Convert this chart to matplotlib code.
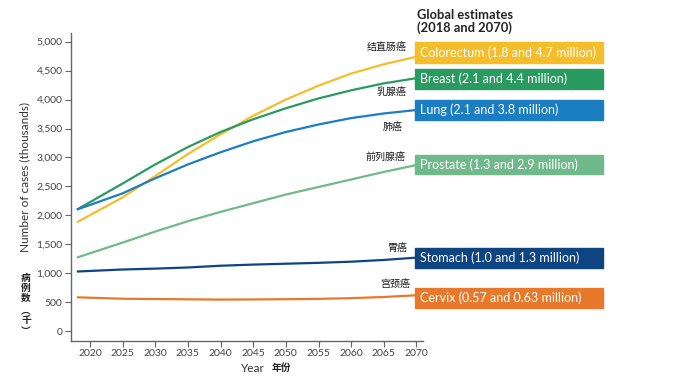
import matplotlib
matplotlib.use("Agg")
import matplotlib.pyplot as plt
from matplotlib.patches import Rectangle

# data (thousands of cases)
years = [2018, 2025, 2030, 2035, 2040, 2045, 2050, 2055, 2060, 2065, 2070]
colorectum = [1880, 2310, 2680, 3060, 3400, 3720, 4000, 4240, 4450, 4610, 4740]
breast = [2100, 2550, 2880, 3180, 3440, 3660, 3850, 4020, 4160, 4280, 4370]
lung = [2100, 2380, 2640, 2880, 3090, 3280, 3440, 3570, 3680, 3760, 3820]
prostate = [1270, 1530, 1720, 1900, 2060, 2210, 2360, 2490, 2620, 2750, 2870]
stomach = [1030, 1065, 1080, 1100, 1130, 1150, 1165, 1180, 1200, 1230, 1270]
cervix = [585, 560, 555, 550, 545, 548, 552, 558, 570, 590, 620]

series = [colorectum, breast, lung, prostate, stomach, cervix]
labels_en = ["Colorectum (1.8 and 4.7 million)", "Breast (2.1 and 4.4 million)",
             "Lung (2.1 and 3.8 million)", "Prostate (1.3 and 2.9 million)",
             "Stomach (1.0 and 1.3 million)", "Cervix (0.57 and 0.63 million)"]
labels_cn = ["结直肠癌", "乳腺癌", "肺癌", "前列腺癌", "胃癌", "宫颈癌"]
colors = ["#F6BD2B", "#2A9B60", "#1B7EC2", "#70B98A", "#0F4483", "#E8792A"]

xticks = list(range(2020, 2071, 5))
yticks = list(range(0, 5001, 500))

W, H = 673, 380
CJK = ["Noto Sans CJK SC", "DejaVu Sans"]
LAT = ["Lato", "DejaVu Sans"]

fig = plt.figure(figsize=(W / 100, H / 100), dpi=100)
ax = fig.add_axes([71 / W, 1 - 341 / H, (423 - 71) / W, (341 - 33) / H])

for vals, c in zip(series, colors):
    ax.plot(years, vals, color=c, lw=1.6, solid_capstyle="butt", clip_on=False)

ax.set_xlim(2017.1, 2071)
ax.set_ylim(-170, 5150)
ax.set_xticks(xticks)
ax.set_yticks(yticks)
ax.set_yticklabels([f"{v:,}" for v in yticks])
for s in ["top", "right"]:
    ax.spines[s].set_visible(False)
for s in ["left", "bottom"]:
    ax.spines[s].set_color("#666666")
    ax.spines[s].set_linewidth(1.0)
ax.tick_params(colors="#666666", labelcolor="#444444", length=4, width=0.8,
               labelsize=7.5, pad=2)
for lab in ax.get_xticklabels() + ax.get_yticklabels():
    lab.set_family(LAT)

# axis titles
fig.text(25 / W, 1 - 177 / H, "Number of cases (thousands)", rotation=90,
         ha="center", va="center", fontsize=8.5, color="#333333", family=LAT)
for ch, y in zip(["病", "例", "数", "︵", "千", "︶"], [278, 288, 298, 310, 320, 331]):
    fig.text(26 / W, 1 - y / H, ch, ha="center", va="center", fontsize=7,
             color="#222222", family=CJK, fontweight="bold")
fig.text(253 / W, 1 - 368 / H, "Year", ha="center", va="center", fontsize=8.5,
         color="#333333", family=LAT)
fig.text(281 / W, 1 - 368 / H, "年份", ha="center", va="center", fontsize=7,
         color="#222222", family=CJK, fontweight="bold")

# legend header
fig.text(417 / W, 1 - 15 / H, "Global estimates", ha="left", va="center",
         fontsize=9.3, fontweight="bold", color="#222222", family=LAT)
fig.text(417 / W, 1 - 28 / H, "(2018 and 2070)", ha="left", va="center",
         fontsize=9.3, fontweight="bold", color="#222222", family=LAT)

# coloured label boxes
boxes = [(42, 63), (69, 89), (100, 120), (155, 174), (248, 268), (288, 308)]
cn_pos = [(407, 47), (407, 92), (403, 127), (405, 157), (408, 248), (410, 284)]
for (top, bot), lab, c, cn, (cx, cy) in zip(boxes, labels_en, colors, labels_cn, cn_pos):
    fig.patches.append(Rectangle((415 / W, 1 - bot / H), (603 - 415) / W, (bot - top) / H,
                                 transform=fig.transFigure, color=c, zorder=3))
    fig.text(420 / W, 1 - (top + bot) / 2 / H, lab, ha="left", va="center",
             fontsize=9, color="white", family=LAT, zorder=4)
    fig.text(cx / W, 1 - cy / H, cn, ha="right", va="center", fontsize=7.2,
             color="#1a1a1a", family=CJK)

fig.savefig("out.png", dpi=100)
